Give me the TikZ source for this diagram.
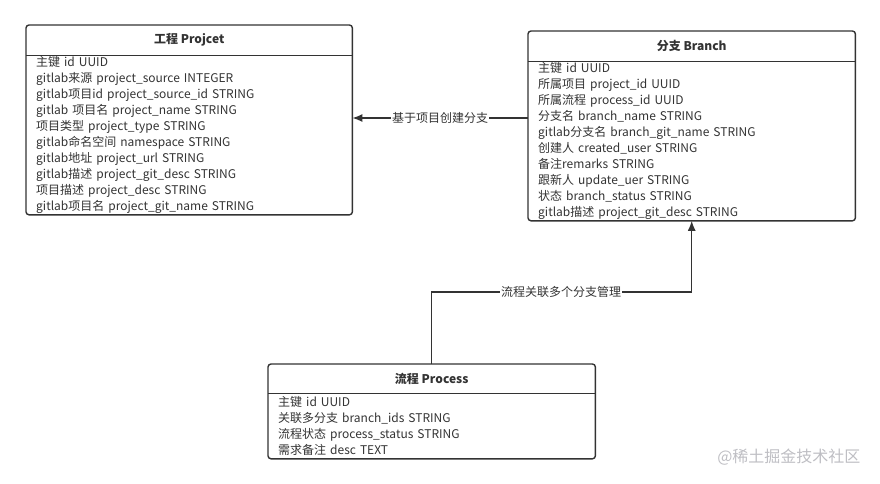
\documentclass[tikz,border=0pt]{standalone}
\usepackage{fontspec}
\setmainfont{Noto Sans CJK SC}
\usepackage{tikz}
\usetikzlibrary{arrows.meta,positioning}
\definecolor{ergris}{RGB}{51,51,51}
\definecolor{ermark}{RGB}{190,190,195}

\begin{document}
\begin{tikzpicture}[x=1pt, y=-1pt,
  hdr/.style={inner sep=0pt, minimum height=30pt, text=ergris,
    font=\fontsize{12}{14}\selectfont\bfseries},
  body/.style={inner xsep=10pt, inner ysep=0pt, align=left, text=ergris,
    font=\fontsize{12}{16}\selectfont},
  frame/.style={draw=ergris, line width=1.4pt, rounded corners=3pt},
  link/.style={draw=ergris, line width=1.4pt, -{Latex[length=10pt,width=8pt]}},
  lbl/.style={fill=white, inner sep=1pt, text=ergris,
    font=\fontsize{12}{14}\selectfont}
]
  \useasboundingbox (0,0) rectangle (880,483);

  % Project
  \node[hdr, minimum width=326pt, anchor=north west] (proj_t) at (26,25) {工程 Projcet};
  \node[body, below=0pt of proj_t, text width=306pt, minimum height=159pt] (proj_b)
    {主键 id UUID\\
     gitlab来源 project\_source INTEGER\\
     gitlab项目id project\_source\_id STRING\\
     gitlab 项目名 project\_name STRING\\
     项目类型 project\_type STRING\\
     gitlab命名空间 namespace STRING\\
     gitlab地址 project\_url STRING\\
     gitlab描述 project\_git\_desc STRING\\
     项目描述 project\_desc STRING\\
     gitlab项目名 project\_git\_name STRING};
  \draw[frame] (proj_t.north west) rectangle (proj_b.south east);
  \draw[ergris, line width=1.4pt] (proj_t.south west) -- (proj_t.south east);

  % Branch
  \node[hdr, minimum width=327pt, anchor=north west] (br_t) at (528,31) {分支 Branch};
  \node[body, below=0pt of br_t, text width=307pt, minimum height=159pt] (br_b)
    {主键 id UUID\\
     所属项目 project\_id UUID\\
     所属流程 process\_id UUID\\
     分支名 branch\_name STRING\\
     gitlab分支名 branch\_git\_name STRING\\
     创建人 created\_user STRING\\
     备注remarks STRING\\
     跟新人 update\_uer STRING\\
     状态 branch\_status STRING\\
     gitlab描述 project\_git\_desc STRING};
  \draw[frame] (br_t.north west) rectangle (br_b.south east);
  \draw[ergris, line width=1.4pt] (br_t.south west) -- (br_t.south east);

  % Process
  \node[hdr, minimum width=327pt, minimum height=29pt, anchor=north west] (proc_t) at (268,364) {流程 Process};
  \node[body, below=0pt of proc_t, text width=307pt, minimum height=65pt] (proc_b)
    {主键 id UUID\\
     关联多分支 branch\_ids STRING\\
     流程状态 process\_status STRING\\
     需求备注 desc TEXT};
  \draw[frame] (proc_t.north west) rectangle (proc_b.south east);
  \draw[ergris, line width=1.4pt] (proc_t.south west) -- (proc_t.south east);

  % Relations
  \draw[link] (br_b.west |- 0,118) -- node[lbl] (lbl_a) {基于项目创建分支} (proj_b.east |- 0,118);
  \coordinate (bend) at (561,292);
  \draw[link] (proc_t.north) |- (bend) node[lbl] (lbl_b) {流程关联多个分支管理} -| (br_b.south);

  % Watermark
  \node[text=ermark, font=\fontsize{16}{18}\selectfont, anchor=east] (mark) at (864,457) {@稀土掘金技术社区};
\end{tikzpicture}
\end{document}
